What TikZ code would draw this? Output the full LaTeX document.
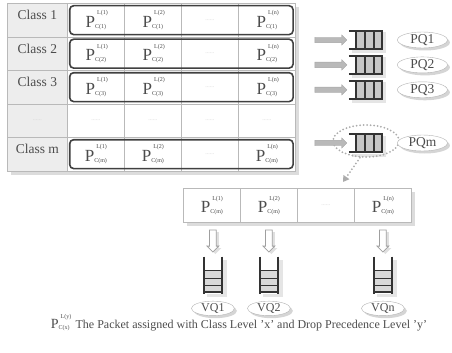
\documentclass[tikz,border=0pt]{standalone}
\usepackage{fontspec}
\setmainfont{Liberation Serif}
\usetikzlibrary{matrix, positioning, fit, shapes.geometric, shapes.arrows, shadows, arrows.meta}

% packet symbol: P with level above and class below
\newcommand{\pk}[2]{P\makebox[0pt][l]{\hspace{2pt}\raisebox{1.6ex}{\fontsize{6}{6}\selectfont L(#2)}}\raisebox{-0.15ex}{\fontsize{6}{6}\selectfont C(#1)}}
\newcommand{\dts}{\textcolor{gray!35}{\fontsize{6}{6}\selectfont ......}}

\begin{document}
\begin{tikzpicture}
[x=1pt, y=-1pt, > = latex,
cell/.style ={rectangle, draw=gray!55, fill=white, minimum width=57pt,
minimum height=33.5pt, inner sep=0pt, text=black!70, anchor=center,
font=\fontsize{17}{17}\selectfont},
classcell/.style ={cell, minimum width=60pt, fill=gray!14,
text height=8pt, text depth=9pt, font=\fontsize{13.5}{14}\selectfont},
rowbox/.style ={rectangle, draw=black!75, line width=1.6pt,
rounded corners=4pt, inner sep=-2.5pt},
harrow/.style ={single arrow, fill=gray!55, draw=gray!70, inner sep=2.5pt,
single arrow head extend=2.5pt, minimum height=32pt},
varrow/.style ={single arrow, rotate=-90, fill=white, draw=gray!75, line width=0.8pt,
inner sep=3pt, single arrow head extend=2.5pt, minimum height=22pt,
drop shadow={shadow xshift=2.5pt, shadow yshift=-2pt, fill=gray!50}},
hq/.style ={minimum width=34pt, minimum height=21pt, inner sep=0pt, fill=white,
drop shadow={shadow xshift=3pt, shadow yshift=-3pt, fill=gray!40}},
vq/.style ={minimum width=20pt, minimum height=37pt, inner sep=0pt, fill=white,
drop shadow={shadow xshift=4pt, shadow yshift=-3pt, fill=gray!40}},
rail/.style ={black!80, line width=2pt},
bar/.style ={black!80, line width=1.8pt},
qlabel/.style ={ellipse, draw=gray!60, fill=white, inner sep=0pt,
minimum width=50pt, minimum height=16pt, text=black!70,
font=\fontsize{13.5}{14}\selectfont,
drop shadow={shadow xshift=2.5pt, shadow yshift=-2.5pt, fill=gray!65}},
vlabel/.style ={qlabel, minimum width=43pt, minimum height=14.5pt,
font=\fontsize{12}{12}\selectfont},
ring/.style ={ellipse, draw=gray!65, line width=2pt, line cap=round,
dash pattern=on 0pt off 3.5pt, minimum width=66pt, minimum height=32pt},
]
\useasboundingbox (0,0) rectangle (452,353);

\matrix (tab) [matrix of nodes, anchor=north west, inner sep=0pt, fill=white,
drop shadow={shadow xshift=3.5pt, shadow yshift=-3.5pt, fill=gray!55},
column sep=-0.4pt, row sep=-0.4pt, nodes={cell},
column 1/.style={nodes={classcell}}] at (7,3)
{
% row 1
Class 1 & \pk{1}{1} & \pk{1}{2} & \dts & \pk{1}{n} \\
% row 2
Class 2 & \pk{2}{1} & \pk{2}{2} & \dts & \pk{2}{n} \\
% row 3
Class 3 & \pk{3}{1} & \pk{3}{2} & \dts & \pk{3}{n} \\
% row 4
\dts & \dts & \dts & \dts & \dts \\
% row m
Class m & \pk{m}{1} & \pk{m}{2} & \dts & \pk{m}{n} \\
};

\node[rowbox, fit=(tab-1-2)(tab-1-5)] (r1) {};
\node[rowbox, fit=(tab-2-2)(tab-2-5)] (r2) {};
\node[rowbox, fit=(tab-3-2)(tab-3-5)] (r3) {};
\node[rowbox, fit=(tab-5-2)(tab-5-5)] (rm) {};

% priority queues
\node[hq] (q1) at (366,40) {};
\node[hq, below=3.5pt of q1] (q2) {};
\node[hq, below=3.5pt of q2] (q3) {};
\node[hq] (qm) at (366,143) {};
\foreach \q in {q1,q2,q3,qm} {
\fill[gray!45] ([shift={(7,2)}]\q.north west) rectangle ([shift={(-1,-2)}]\q.south east);
\draw[rail] ([shift={(0,1.5)}]\q.north west) -- ([shift={(0,1.5)}]\q.north east);
\draw[rail] ([shift={(0,-1.5)}]\q.south west) -- ([shift={(0,-1.5)}]\q.south east);
\foreach \b in {7,16,25,33}
\draw[bar] ([shift={(\b,1.5)}]\q.north west) -- ([shift={(\b,-1.5)}]\q.south west);
}
\node[ring] (ring) at (366,141) {};

\node[qlabel, right=14pt of q1] (pq1) {PQ1};
\node[qlabel, right=14pt of q2] (pq2) {PQ2};
\node[qlabel, right=14pt of q3] (pq3) {PQ3};
\node[qlabel, right=14pt of qm] (pqm) {PQm};

\path (r1.east |- q1) -- (q1.west) node[pos=.65, harrow] (a1) {};
\path (r2.east |- q2) -- (q2.west) node[pos=.65, harrow] (a2) {};
\path (r3.east |- q3) -- (q3.west) node[pos=.65, harrow] (a3) {};
\path (rm.east |- qm) -- (qm.west) node[pos=.65, harrow] (am) {};

% virtual queues of class m
\matrix (vtab) [matrix of nodes, anchor=north west, inner sep=0pt, fill=white,
drop shadow={shadow xshift=3.5pt, shadow yshift=-3.5pt, fill=gray!55},
column sep=-0.4pt, nodes={cell, minimum height=34pt}] at (183,188)
{
\pk{m}{1} & \pk{m}{2} & \dts & \pk{m}{n} \\
};

\coordinate (vin) at (343,182);
\draw[ring, -{Triangle[width=7pt, length=6pt, fill=gray!65]}] (ring.250) -- (vin);

\node[varrow, anchor=tail] (d1) at ([shift={(1,7)}]vtab-1-1.south) {};
\node[varrow, anchor=tail] (d2) at ([shift={(0,7)}]vtab-1-2.south) {};
\node[varrow, anchor=tail] (dn) at ([shift={(0,7)}]vtab-1-4.south) {};

\node[vq, below=4pt of d1.tip] (v1) {};
\node[vq, below=4pt of d2.tip] (v2) {};
\node[vq, below=4pt of dn.tip] (vn) {};
\foreach \v in {v1,v2,vn} {
\fill[gray!30] ([shift={(2,14)}]\v.north west) rectangle ([shift={(-2,-1)}]\v.south east);
\draw[rail] ([shift={(1.5,0)}]\v.north west) -- ([shift={(1.5,0)}]\v.south west);
\draw[rail] ([shift={(-1.5,0)}]\v.north east) -- ([shift={(-1.5,0)}]\v.south east);
\foreach \b in {14,22,29,35.5}
\draw[bar] ([shift={(1.5,\b)}]\v.north west) -- ([shift={(-1.5,\b)}]\v.north east);
}

\node[vlabel, below=7pt of v1] (vq1) {VQ1};
\node[vlabel, below=7pt of v2] (vq2) {VQ2};
\node[vlabel, below=7pt of vn] (vqn) {VQn};

% legend
\node[text=black!70, font=\fontsize{12}{12}\selectfont] (legend) at (239,323)
{{\fontsize{14}{14}\selectfont\pk{x}{y}}\ \ The Packet assigned with Class Level 'x' and Drop Precedence Level 'y'};
\end{tikzpicture}
\end{document}
